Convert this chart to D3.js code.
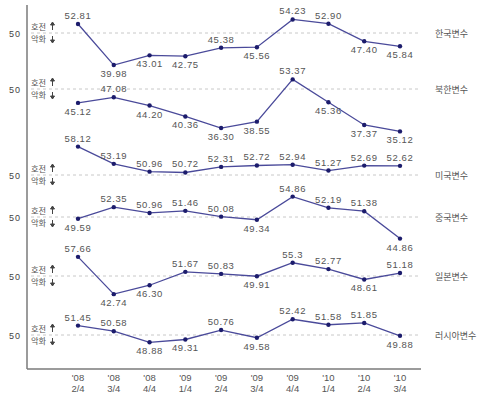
<!DOCTYPE html>
<html>
<head>
<meta charset="utf-8">
<script src="https://cdn.jsdelivr.net/npm/d3@7"></script>
<style>
  body { margin: 0; background: #fff; }
  text { font-family: "Liberation Sans", Arial, sans-serif; }
  .kr { font-family: "Noto Sans CJK KR", sans-serif; }
</style>
</head>
<body>
<div id="graph"></div>
<script>
const W = 480;
const H = 396;

// quarters on x axis
const years = ["'08", "'08", "'08", "'09", "'09", "'09", "'09", "'10", "'10", "'10"];
const quarters = ["2/4", "3/4", "4/4", "1/4", "2/4", "3/4", "4/4", "1/4", "2/4", "3/4"];

const seriesNames = ["한국변수", "북한변수", "미국변수", "중국변수", "일본변수", "러시아변수"];

const korea  = [52.81, 39.98, 43.01, 42.75, 45.38, 45.56, 54.23, 52.90, 47.40, 45.84];
const north  = [45.12, 47.08, 44.20, 40.36, 36.30, 38.55, 53.37, 45.36, 37.37, 35.12];
const usa    = [58.12, 53.19, 50.96, 50.72, 52.31, 52.72, 52.94, 51.27, 52.69, 52.62];
const china  = [49.59, 52.35, 50.96, 51.46, 50.08, 49.34, 54.86, 52.19, 51.38, 44.86];
const japan  = [57.66, 42.74, 46.30, 51.67, 50.83, 49.91, 55.3, 52.77, 48.61, 51.18];
const russia = [51.45, 50.58, 48.88, 49.31, 50.76, 49.58, 52.42, 51.58, 51.85, 49.88];

// label strings as printed (keep trailing zeros)
const koreaLbl  = ["52.81", "39.98", "43.01", "42.75", "45.38", "45.56", "54.23", "52.90", "47.40", "45.84"];
const northLbl  = ["45.12", "47.08", "44.20", "40.36", "36.30", "38.55", "53.37", "45.36", "37.37", "35.12"];
const usaLbl    = ["58.12", "53.19", "50.96", "50.72", "52.31", "52.72", "52.94", "51.27", "52.69", "52.62"];
const chinaLbl  = ["49.59", "52.35", "50.96", "51.46", "50.08", "49.34", "54.86", "52.19", "51.38", "44.86"];
const japanLbl  = ["57.66", "42.74", "46.30", "51.67", "50.83", "49.91", "55.3", "52.77", "48.61", "51.18"];
const russiaLbl = ["51.45", "50.58", "48.88", "49.31", "50.76", "49.58", "52.42", "51.58", "51.85", "49.88"];

const allValues = [korea, north, usa, china, japan, russia];
const allLabels = [koreaLbl, northLbl, usaLbl, chinaLbl, japanLbl, russiaLbl];

// label side: 1 = above, -1 = below
const sides = [
  [1, -1, -1, -1, 1, -1, 1, 1, -1, -1],
  [-1, 1, -1, -1, -1, -1, 1, -1, -1, -1],
  [1, 1, 1, 1, 1, 1, 1, 1, 1, 1],
  [-1, 1, 1, 1, 1, -1, 1, 1, 1, -1],
  [1, -1, -1, 1, 1, -1, 1, 1, -1, 1],
  [1, 1, -1, -1, 1, -1, 1, 1, 1, -1]
];

// per-panel layout: y of the 50 line and pixels per unit
const panelBase = [33, 89, 175, 217, 276, 335];
const panelUnit = [3.2, 2.85, 3.5, 4.2, 2.5, 6.5];

const axisX = 27;
const axisBottom = 369;

const svg = d3.select("#graph").append("svg")
  .attr("width", W)
  .attr("height", H);

const x = d3.scalePoint()
  .domain(d3.range(years.length))
  .range([78, 400]);

// axes lines
svg.append("line")
  .attr("x1", axisX).attr("x2", axisX)
  .attr("y1", 5).attr("y2", axisBottom)
  .attr("stroke", "#7a7a7a").attr("stroke-width", 1.5);
svg.append("line")
  .attr("x1", axisX).attr("x2", 421)
  .attr("y1", axisBottom).attr("y2", axisBottom)
  .attr("stroke", "#7a7a7a").attr("stroke-width", 1.5);

// x tick labels
const ticks = svg.append("g").selectAll("g")
  .data(d3.range(years.length))
  .enter().append("g");
ticks.append("text")
  .attr("x", d => x(d))
  .attr("y", 381)
  .attr("text-anchor", "middle")
  .attr("font-size", 9.5)
  .attr("fill", "#555")
  .text(d => years[d]);
ticks.append("text")
  .attr("x", d => x(d))
  .attr("y", 392)
  .attr("text-anchor", "middle")
  .attr("font-size", 9.5)
  .attr("fill", "#555")
  .text(d => quarters[d]);

const line = d3.line();

allValues.forEach((vals, p) => {
  const base = panelBase[p];
  const y = d3.scaleLinear()
    .domain([40, 50])
    .range([base + 10 * panelUnit[p], base]);
  const g = svg.append("g");

  // dashed 50 line
  g.append("line")
    .attr("x1", 31).attr("x2", 420)
    .attr("y1", y(50)).attr("y2", y(50))
    .attr("stroke", "#c8c8c8")
    .attr("stroke-dasharray", "3,3");

  g.append("text")
    .attr("x", 9).attr("y", y(50) + 3.5)
    .attr("font-size", 9)
    .attr("fill", "#444")
    .attr("letter-spacing", 1)
    .text("50");

  g.append("text").attr("class", "kr")
    .attr("x", 31).attr("y", y(50) - 3)
    .attr("font-size", 8.2).attr("fill", "#555")
    .text("호전");
  g.append("text").attr("class", "kr")
    .attr("x", 31).attr("y", y(50) + 9)
    .attr("font-size", 8.2).attr("fill", "#555")
    .text("악화");
  // small arrows
  g.append("path")
    .attr("d", `M52.5,${y(50) - 3}V${y(50) - 9}M50.5,${y(50) - 8}L52.5,${y(50) - 11}L54.5,${y(50) - 8}Z`)
    .attr("stroke", "#444").attr("fill", "#444").attr("stroke-width", 1);
  g.append("path")
    .attr("d", `M52.5,${y(50) + 3}V${y(50) + 8}M50.5,${y(50) + 7}L52.5,${y(50) + 10}L54.5,${y(50) + 7}Z`)
    .attr("stroke", "#444").attr("fill", "#444").attr("stroke-width", 1);

  // series name at right
  g.append("text").attr("class", "kr")
    .attr("x", 435).attr("y", y(50) + 3.5)
    .attr("font-size", 9)
    .attr("fill", "#555")
    .text(seriesNames[p]);

  g.append("path")
    .attr("d", line(vals.map((v, i) => [x(i), y(v)])))
    .attr("fill", "none")
    .attr("stroke", "#4a4a9a")
    .attr("stroke-width", 1.3);

  g.selectAll("circle")
    .data(vals)
    .enter().append("circle")
    .attr("cx", (d, i) => x(i))
    .attr("cy", d => y(d))
    .attr("r", 2.2)
    .attr("fill", "#1c1c6c");

  g.selectAll("text.val")
    .data(vals)
    .enter().append("text")
    .attr("class", "val")
    .attr("x", (d, i) => x(i))
    .attr("y", (d, i) => sides[p][i] > 0 ? y(d) - 5 : y(d) + 12)
    .attr("text-anchor", "middle")
    .attr("font-size", 9.5)
    .attr("letter-spacing", 0.6)
    .attr("fill", "#555")
    .text((d, i) => allLabels[p][i]);
});
</script>
</body>
</html>
